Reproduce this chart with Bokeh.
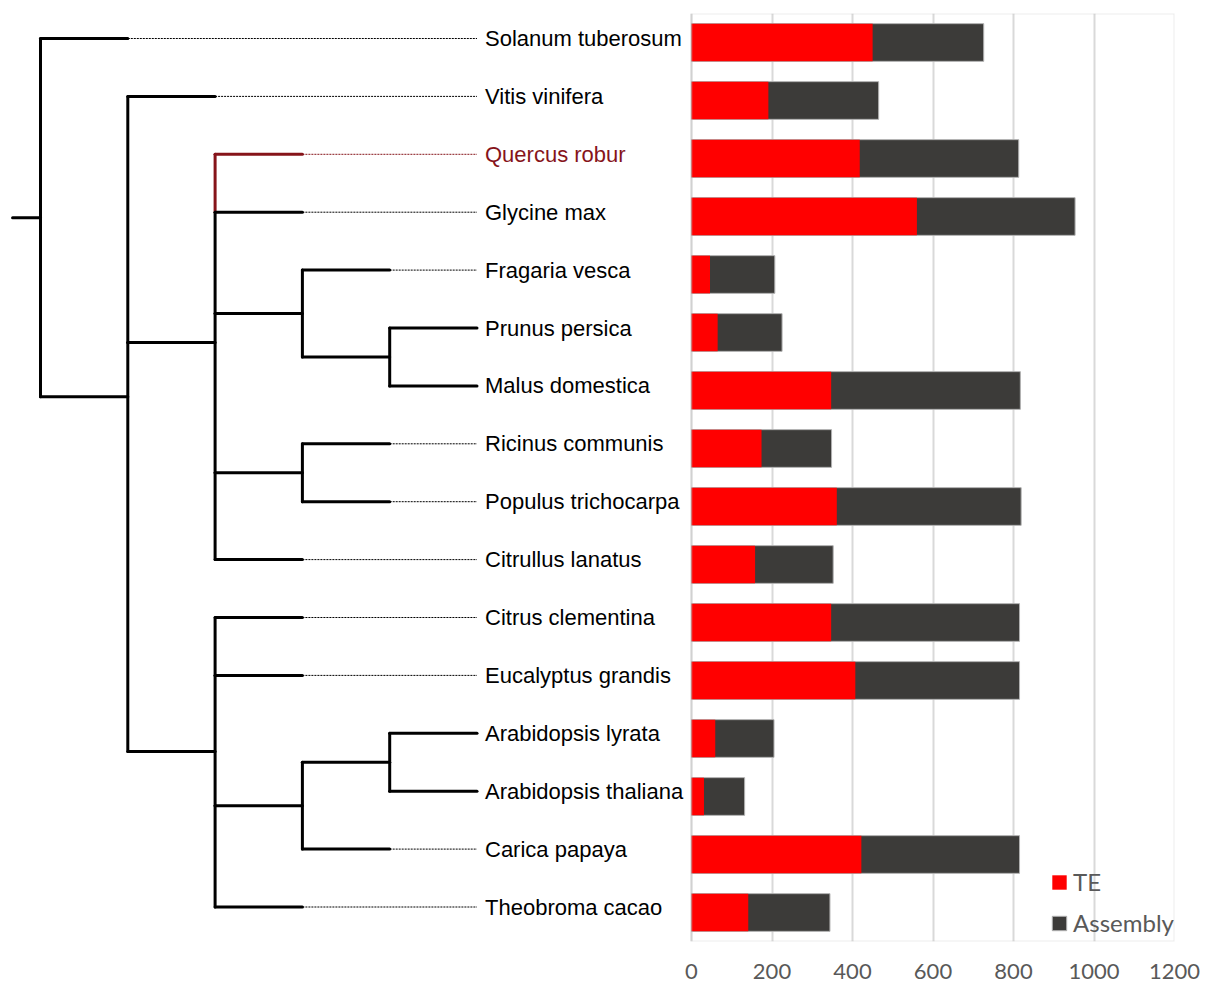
from bokeh.plotting import figure
from bokeh.models import Range1d, FixedTicker, BoxAnnotation, Legend, LegendItem, ColumnDataSource
from bokeh.core.properties import value
from bokeh.embed import file_html
from bokeh.resources import INLINE

# ---------------- data ----------------
species = [
    "Solanum tuberosum", "Vitis vinifera", "Quercus robur", "Glycine max",
    "Fragaria vesca", "Prunus persica", "Malus domestica", "Ricinus communis",
    "Populus trichocarpa", "Citrullus lanatus", "Citrus clementina",
    "Eucalyptus grandis", "Arabidopsis lyrata", "Arabidopsis thaliana",
    "Carica papaya", "Theobroma cacao",
]
te_mb = [450, 191, 418, 560, 46, 65, 347, 174, 361, 158, 347, 407, 59, 31, 422, 141]
assembly_mb = [726, 465, 813, 953, 207, 225, 817, 348, 819, 352, 815, 815, 205, 132, 815, 344]
x_ticks = [0, 200, 400, 600, 800, 1000, 1200]
highlight = "Quercus robur"

# tree topology (nested lists of leaf names)
tree = [
    "Solanum tuberosum",
    [
        "Vitis vinifera",
        [
            "Quercus robur",
            "Glycine max",
            ["Fragaria vesca", ["Prunus persica", "Malus domestica"]],
            ["Ricinus communis", "Populus trichocarpa"],
            "Citrullus lanatus",
        ],
        [
            "Citrus clementina",
            "Eucalyptus grandis",
            [["Arabidopsis lyrata", "Arabidopsis thaliana"], "Carica papaya"],
            "Theobroma cacao",
        ],
    ],
]

# ---------------- style / layout ----------------
RED = "#ff0000"
DARK = "#3c3b39"
HL = "#86141a"
BLACK = "#000000"
GRID = "#d9d9d9"
TICK_COL = "#595959"

MB_LEFT, MB_RIGHT, MB_TOP, MB_BOTTOM = 8, 30, 13, 46
FRAME_W, FRAME_H = 1166, 928
W = FRAME_W + MB_LEFT + MB_RIGHT
H = FRAME_H + MB_TOP + MB_BOTTOM
PX_PER_UNIT = 483 / 1200.0
X_START = 1200 - FRAME_W / PX_PER_UNIT

# tree coordinate system (depth levels / rows)
LEVEL_PX = 87.3
ROOT_PX = 32.0       # px from frame left to depth 0
ROW_PX = 57.9
ROW0_PX = 25.0       # px from frame top to row 0
LEAF_DEPTH = 5
STUB_DEPTH = -0.32

t_x0 = -ROOT_PX / LEVEL_PX
t_x1 = t_x0 + FRAME_W / LEVEL_PX
t_ytop = -ROW0_PX / ROW_PX
t_ybot = t_ytop + FRAME_H / ROW_PX

p = figure(
    width=W, height=H, output_backend="svg", toolbar_location=None,
    x_range=Range1d(X_START, 1200), y_range=Range1d(15.5, -0.5),
    y_axis_location=None, min_border_left=MB_LEFT, min_border_right=MB_RIGHT,
    min_border_top=MB_TOP, min_border_bottom=MB_BOTTOM,
    outline_line_color=None, background_fill_color="white",
)
p.extra_x_ranges = {"tree": Range1d(t_x0, t_x1)}
p.extra_y_ranges = {"tree": Range1d(t_ybot, t_ytop)}

# ---------------- grid / frame / axis ----------------
p.xgrid.ticker = FixedTicker(ticks=x_ticks)
p.xgrid.grid_line_color = GRID
p.xgrid.grid_line_width = 2
p.ygrid.visible = False
p.add_layout(BoxAnnotation(left=min(x_ticks), right=max(x_ticks), fill_alpha=0,
                           fill_color=None, line_color="#c0c0c0", line_width=2))

ax = p.xaxis[0]
ax.ticker = FixedTicker(ticks=x_ticks)
ax.axis_line_color = None
ax.major_tick_line_color = None
ax.minor_tick_line_color = None
ax.major_label_text_font = "Lato"
ax.major_label_text_font_size = "22px"
ax.major_label_text_color = TICK_COL
ax.major_label_standoff = 16

# ---------------- tree ----------------
rows = {name: i for i, name in enumerate(species)}
seg = dict(x0=[], y0=[], x1=[], y1=[], c=[])
dots = dict(x0=[], y0=[], x1=[], y1=[], c=[])


def add(d, x0, y0, x1, y1, c):
    d["x0"].append(x0); d["y0"].append(y0); d["x1"].append(x1); d["y1"].append(y1); d["c"].append(c)


def layout(node, depth):
    if isinstance(node, str):
        return rows[node]
    ys = [layout(ch, depth + 1) for ch in node]
    for k in range(len(ys) - 1):
        c = HL if node[k] == highlight else BLACK
        add(seg, depth, ys[k], depth, ys[k + 1], c)
    for ch, yc in zip(node, ys):
        c = HL if ch == highlight else BLACK
        add(seg, depth, yc, depth + 1, yc, c)
        if isinstance(ch, str) and depth + 1 < LEAF_DEPTH:
            add(dots, depth + 1, yc, LEAF_DEPTH, yc, c)
    return sum(ys) / len(ys)


root_y = layout(tree, 0)
add(seg, STUB_DEPTH, root_y, 0, root_y, BLACK)

p.segment(x0="x0", y0="y0", x1="x1", y1="y1", color="c", source=ColumnDataSource(dots),
          line_width=1, line_dash="2 1", x_range_name="tree", y_range_name="tree")
p.segment(x0="x0", y0="y0", x1="x1", y1="y1", color="c", source=ColumnDataSource(seg),
          line_width=3, line_cap="round", x_range_name="tree", y_range_name="tree")

label_colors = [HL if s == highlight else BLACK for s in species]
p.text(x=[LEAF_DEPTH] * len(species), y=list(range(len(species))), text=species,
       text_color=label_colors, x_offset=8, text_baseline="middle", text_align="left",
       text_font=value("Liberation Sans"), text_font_size="22px",
       x_range_name="tree", y_range_name="tree")

# ---------------- bars ----------------
src = ColumnDataSource(dict(row=list(range(len(species))), te=te_mb, asm=assembly_mb))
r_asm = p.hbar(y="row", left=0, right="asm", height=0.65, source=src,
               fill_color=DARK, line_color="#b0b0b0", line_width=1)
r_te = p.hbar(y="row", left=0, right="te", height=0.65, source=src,
              fill_color=RED, line_color=None)

legend = Legend(
    items=[LegendItem(label="TE", renderers=[r_te]),
           LegendItem(label="Assembly", renderers=[r_asm])],
    location=(1042, 4), orientation="vertical",
    glyph_width=18, glyph_height=18, label_height=18, label_width=10,
    spacing=12, padding=0, margin=0, label_standoff=5,
    label_text_font="Lato", label_text_font_size="24px", label_text_color=TICK_COL,
    border_line_color=None, background_fill_alpha=0,
)
p.add_layout(legend)

open("out.html", "w").write(file_html(p, INLINE))
